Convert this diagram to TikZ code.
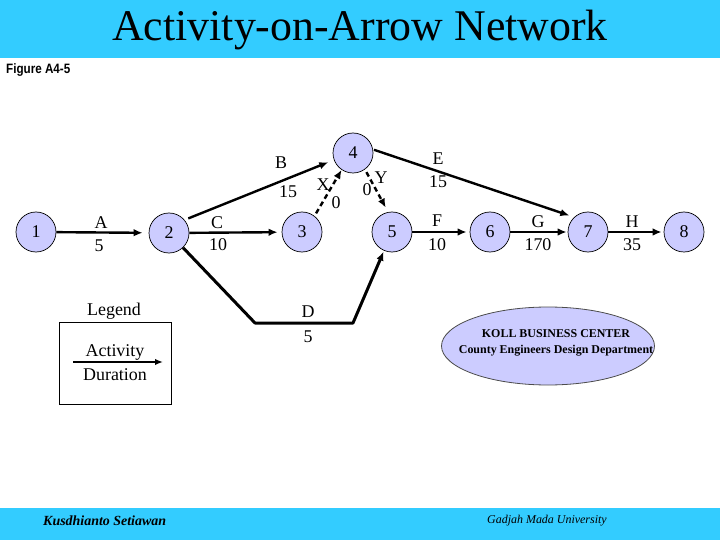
\documentclass[tikz,border=0pt]{standalone}
\usepackage{fontspec}
\setmainfont{Liberation Serif}
\newfontfamily\figfont{Liberation Sans}
\usetikzlibrary{arrows.meta,shapes.geometric}
\definecolor{barblue}{HTML}{33CCFF}
\definecolor{nodefill}{HTML}{CCCCFF}
\begin{document}
\begin{tikzpicture}[x=1bp,y=-1bp,
  evt/.style={circle, draw=black, line width=0.7bp, fill=nodefill, minimum size=40bp, inner sep=0pt, font=\fontsize{18}{20}\selectfont},
  act/.style={line width=2.4bp, -{Latex[length=9bp,width=7.5bp]}, shorten >=3bp},
  dum/.style={act, dash pattern=on 5bp off 3.5bp},
  lbl/.style={font=\fontsize{18}{20}\selectfont, inner sep=0pt}]
\useasboundingbox (0,0) rectangle (720,540);
\fill[barblue] (0,0) rectangle (720,58);
\fill[barblue] (0,508) rectangle (720,540);
\node[inner sep=0pt] (title) at (360,30) {\fontsize{44}{48}\selectfont Activity-on-Arrow Network};
\node[inner sep=0pt, anchor=west] (fig) at (6,70) {\scalebox{0.9}[1.05]{\figfont\bfseries\fontsize{13}{15}\selectfont Figure A4-5}};
\node[inner sep=0pt, anchor=west] (auth) at (43,521) {\bfseries\itshape\fontsize{14}{16}\selectfont Kusdhianto Setiawan};
\node[inner sep=0pt, anchor=west] (univ) at (487,521) {\itshape\fontsize{12}{14}\selectfont Gadjah Mada University};

% events
\node[evt] (n1) at (36,232) {1};
\node[evt] (n2) at (169,233) {2};
\node[evt] (n3) at (302,232) {3};
\node[evt] (n4) at (353,153) {4};
\node[evt] (n5) at (392,232) {5};
\node[evt] (n6) at (490,232) {6};
\node[evt] (n7) at (588,232) {7};
\node[evt] (n8) at (684,232) {8};

% activities
\draw[act, shorten >=6bp] (n1) -- (n2);
\draw[act, shorten <=4bp, shorten >=6bp] (n2.40) -- (n4.200);
\draw[act, shorten >=4bp] (n2) -- (n3);
\draw[dum, shorten <=3bp, shorten >=0bp] (n3.52) -- (n4.236);
\draw[dum, shorten <=3bp, shorten >=5bp] (n4.306) -- (n5.101);
\draw[act, shorten <=1bp, shorten >=5bp] (n4.10) -- (n7.133);
\draw[act] (n5) -- (n6);
\draw[act, shorten >=1bp] (n6) -- (n7);
\draw[act, shorten >=2bp] (n7) -- (n8);
\coordinate (d1) at (255,323);
\coordinate (d2) at (353,323);
\draw[act, line width=3bp, line join=round, shorten >=1bp] (n2) -- (d1) -- (d2) -- (n5);

% labels
\node[lbl] (lA) at (101,223) {A};
\node[lbl] (lA5) at (99,246) {5};
\node[lbl] (lB) at (281,163) {B};
\node[lbl] (lB15) at (288,192) {15};
\node[lbl] (lC) at (217,223) {C};
\node[lbl] (lC10) at (218,245) {10};
\node[lbl] (lX) at (323,185) {X};
\node[lbl] (lX0) at (336,203) {0};
\node[lbl] (lY) at (381,178) {Y};
\node[lbl] (lY0) at (367,190) {0};
\node[lbl] (lE) at (438,159) {E};
\node[lbl] (lE15) at (438,182) {15};
\node[lbl] (lF) at (437,221) {F};
\node[lbl] (lF10) at (437,245) {10};
\node[lbl] (lG) at (538,222) {G};
\node[lbl] (lG170) at (538,245) {170};
\node[lbl] (lH) at (632,222) {H};
\node[lbl] (lH35) at (632,245) {35};
\node[lbl] (lD) at (308,312) {D};
\node[lbl] (lD5) at (308,337) {5};

% legend
\node[lbl] (leg) at (114,311) {Legend};
\node[draw=black, line width=0.8bp, minimum width=112bp, minimum height=82bp, inner sep=0pt] (legbox) at (115,363) {};
\coordinate (la) at (73,362);
\coordinate (lb) at (163,362);
\draw[line width=2bp, -{Latex[length=8bp,width=6.5bp]}] (la) -- (lb);
\node[lbl] (legact) at (115,352) {Activity};
\node[lbl] (legdur) at (115,375) {Duration};

% title ellipse
\node[ellipse, draw=black!70, line width=0.8bp, fill=nodefill, minimum width=213bp, minimum height=78bp] (koll) at (548,346) {};
\node[inner sep=0pt, align=center, font=\bfseries\fontsize{12}{16}\selectfont] (kolltxt) at (556,343) {KOLL BUSINESS CENTER\\County Engineers Design Department};
\end{tikzpicture}
\end{document}
